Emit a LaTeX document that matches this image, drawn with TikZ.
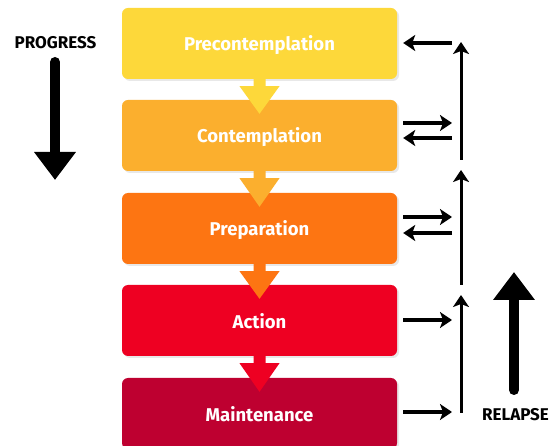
\documentclass[tikz,border=0pt]{standalone}
\usepackage{fontspec}
\setmainfont{Fira Sans}
\usetikzlibrary{arrows.meta,shadows}
\definecolor{cA}{HTML}{FDD83A}
\definecolor{cB}{HTML}{FBAF2E}
\definecolor{cC}{HTML}{FD7512}
\definecolor{cD}{HTML}{EE0022}
\definecolor{cE}{HTML}{BE0030}
\tikzset{
  stage/.style={rounded corners=6pt, minimum width=275pt, minimum height=71pt,
    text=white, font=\fontsize{18.5}{21}\selectfont\bfseries, inner sep=0pt,
    text depth=0pt,
    drop shadow={opacity=0.18, shadow xshift=2pt, shadow yshift=-2pt}},
  sarrow/.style={line width=3.6pt, -{Stealth[length=12pt,width=16pt,inset=3pt]}},
  varrow/.style={line width=3pt, -{Stealth[length=12pt,width=16pt,inset=3pt]}},
  bigarrow/.style={line width=10pt, line cap=round, -{Triangle[length=28pt,width=40pt]}},
  lbl/.style={font=\fontsize{17}{20}\selectfont\bfseries, text=black, inner sep=0pt}
}
\begin{document}
\begin{tikzpicture}[x=1pt,y=-1pt]
\useasboundingbox (0,0) rectangle (552,446);
\clip (0,0) rectangle (552,446);
\fill[white] (0,0) rectangle (552,446);
% stages
\node[stage, fill=cA] (b1) at (259.5,43.5) {Precontemplation};
\node[stage, fill=cB] (b2) at (259.5,135.5) {Contemplation};
\node[stage, fill=cC] (b3) at (259.5,228.5) {Preparation};
\node[stage, fill=cD] (b4) at (259.5,320.5) {Action};
\node[stage, fill=cE] (b5) at (259.5,413.5) {Maintenance};
% fat down arrows between stages
\foreach \u/\l/\c in {b1/b2/cA, b2/b3/cB, b3/b4/cC, b4/b5/cD}{
  \fill[\c] ([xshift=-6pt]\u.south) -- ([xshift=-6pt,yshift=-7pt]\u.south)
     -- ([xshift=-20pt,yshift=-7pt]\u.south) -- ([yshift=-14pt]\l.north)
     -- ([xshift=20pt,yshift=-7pt]\u.south) -- ([xshift=6pt,yshift=-7pt]\u.south)
     -- ([xshift=6pt]\u.south) -- cycle;
}
% PROGRESS
\node[lbl] (prog) at (55.5,42.5) {PROGRESS};
\coordinate (progS) at (55,62);
\coordinate (progE) at (55,180);
\draw[bigarrow] (progS) -- (progE);
% RELAPSE
\node[lbl] (rel) at (515.5,414.5) {RELAPSE};
\coordinate (relS) at (514,390);
\coordinate (relE) at (514,272);
\draw[bigarrow] (relS) -- (relE);
% right-hand connectors
\coordinate (r1) at (452,43);
\draw[sarrow] (r1) -- ([xshift=6pt]b1.east |- r1);
\coordinate (c2a) at (452,123);
\coordinate (c2b) at (452,138);
\draw[sarrow] ([xshift=6pt]b2.east |- c2a) -- (c2a);
\draw[sarrow] (c2b) -- ([xshift=6pt]b2.east |- c2b);
\coordinate (c3a) at (452,217);
\coordinate (c3b) at (452,233);
\draw[sarrow] ([xshift=6pt]b3.east |- c3a) -- (c3a);
\draw[sarrow] (c3b) -- ([xshift=6pt]b3.east |- c3b);
\coordinate (c4) at (452,320);
\draw[sarrow] ([xshift=6pt]b4.east |- c4) -- (c4);
\coordinate (c5) at (452,412);
\draw[sarrow] ([xshift=6pt]b5.east |- c5) -- (c5);
% vertical relapse lines
\coordinate (v1s) at (461,160); \coordinate (v1e) at (461,42);
\coordinate (v2s) at (461,285); \coordinate (v2e) at (461,170);
\coordinate (v3s) at (461,413); \coordinate (v3e) at (461,295);
\draw[varrow] (v1s) -- (v1e);
\draw[varrow] (v2s) -- (v2e);
\draw[varrow] (v3s) -- (v3e);
\end{tikzpicture}
\end{document}
